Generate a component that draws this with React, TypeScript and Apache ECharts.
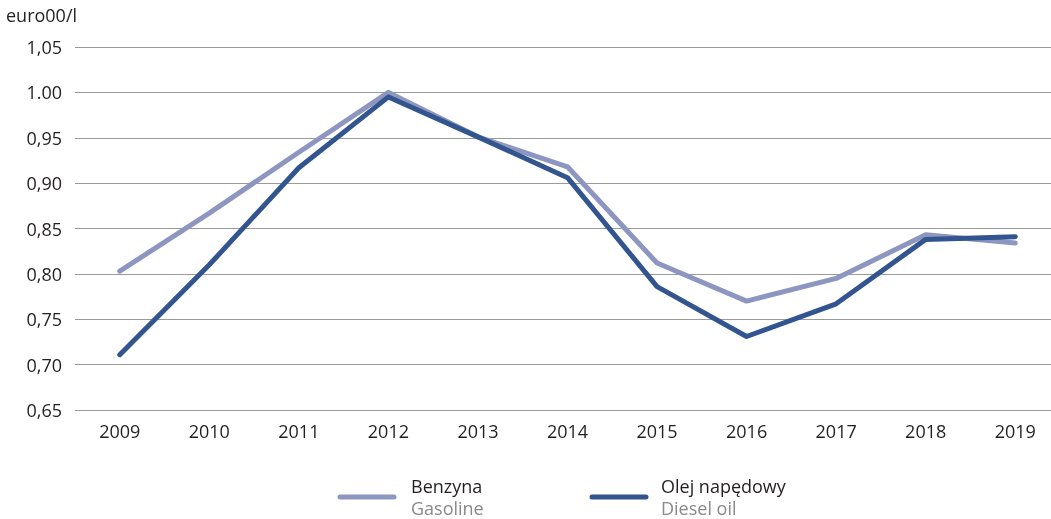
import React, { useEffect, useRef } from "react";
import * as echarts from "echarts";

const years = ["2009", "2010", "2011", "2012", "2013", "2014", "2015", "2016", "2017", "2018", "2019"];
const gasoline = [0.803, 0.867, 0.934, 1.0, 0.951, 0.918, 0.812, 0.77, 0.795, 0.843, 0.834];
const diesel = [0.711, 0.81, 0.917, 0.995, 0.951, 0.906, 0.786, 0.731, 0.767, 0.838, 0.841];
const unitLabel = "euro00/l";
const legendPl = ["Benzyna", "Olej napędowy"];
const legendEn = ["Gasoline", "Diesel oil"];

const LIGHT = "#8d96c0";
const DARK = "#33558f";
const FONT = "'Open Sans', 'Noto Sans', sans-serif";

export default function App() {
  const ref = useRef<HTMLDivElement>(null);
  useEffect(() => {
    const chart = echarts.init(ref.current!, null, { renderer: "svg" });
    const txt = (text: string, x: number, y: number, fill: string) => ({
      type: "text",
      x,
      y,
      style: { text, fill, font: `18px ${FONT}`, verticalAlign: "middle", lineHeight: 20 },
    });
    chart.setOption({
      animation: false,
      grid: {
        left: 75,
        top: 47,
        width: 985,
        bottom: 109,
        containLabel: false,
        outerBoundsMode: "none",
      },
      xAxis: {
        type: "category",
        data: years,
        boundaryGap: true,
        axisLine: { show: false },
        axisTick: { show: false },
        axisLabel: { color: "#231f20", fontSize: 18, fontFamily: FONT, margin: 12 },
      },
      yAxis: {
        type: "value",
        min: 0.65,
        max: 1.05,
        interval: 0.05,
        axisLine: { show: false },
        axisTick: { show: false },
        splitLine: { lineStyle: { color: "#9a9a9a", width: 1.2 } },
        axisLabel: {
          color: "#231f20",
          fontSize: 18,
          fontFamily: FONT,
          margin: 13,
          formatter: (v: number) => v.toFixed(2).replace(".", v === 1 ? "." : ","),
        },
      },
      series: [
        {
          name: legendPl[0],
          type: "line",
          data: gasoline,
          symbol: "none",
          lineStyle: { color: LIGHT, width: 5, cap: "round", join: "round" },
        },
        {
          name: legendPl[1],
          type: "line",
          data: diesel,
          symbol: "none",
          lineStyle: { color: DARK, width: 5, cap: "round", join: "round" },
        },
      ],
      graphic: [
        txt(unitLabel, 6, 15, "#231f20"),
        {
          type: "line",
          shape: { x1: 340, y1: 497, x2: 394, y2: 497 },
          style: { stroke: LIGHT, lineWidth: 5, lineCap: "round" },
        },
        txt(legendPl[0], 411, 486, "#231f20"),
        txt(legendEn[0], 411, 508, "#8a8a8a"),
        {
          type: "line",
          shape: { x1: 592, y1: 497, x2: 646, y2: 497 },
          style: { stroke: DARK, lineWidth: 5, lineCap: "round" },
        },
        txt(legendPl[1], 661, 486, "#231f20"),
        txt(legendEn[1], 661, 508, "#8a8a8a"),
      ],
    });
    return () => chart.dispose();
  }, []);
  return <div ref={ref} style={{ position: "fixed", left: 0, top: 0, width: 1051, height: 519 }} />;
}
